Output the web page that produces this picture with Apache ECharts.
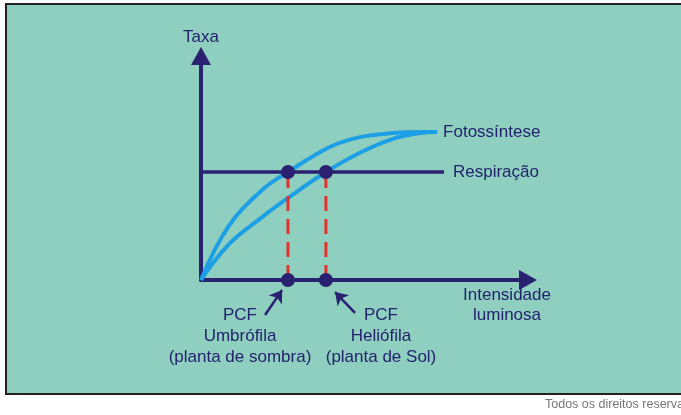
<!DOCTYPE html>
<html>
<head>
<meta charset="utf-8">
<script src="https://cdn.jsdelivr.net/npm/echarts@6/dist/echarts.min.js"></script>
<style>
  html, body { margin: 0; padding: 0; background: #fff; }
  #chart { width: 681px; height: 415px; }
</style>
</head>
<body>
<div id="chart"></div>
<script>
// curvas de fotossintese (intensidade luminosa, taxa)
const sombra = [[0, 0], [8.3, 23.7], [18.7, 40.2], [26.6, 48.2], [39.4, 59.4], [48.6, 63.8], [58.7, 65.6], [67.0, 66.1], [72.2, 66.1]];
const sol = [[0, 0], [8.3, 15.6], [18.7, 28.1], [26.6, 36.6], [38.2, 48.2], [48.6, 56.8], [58.7, 63.0], [67.0, 65.6], [72.2, 66.1]];
// respiracao constante
const respiracao = 48.2;
const respEnd = 74.3;
// pontos de compensacao
const pcf = [26.6, 38.2];
// setas das legendas [de, para]
const setas = [
  [[19.6, -15.6], [24.8, -4.5]],
  [[47.1, -14.7], [41.0, -5.4]]
];

const navy = "#2a2170";
const txt = "#24226e";
const blue = "#1d9fe6";
const font = "Liberation Sans";

const chart = echarts.init(document.getElementById("chart"));

const pontos = [];
pcf.forEach((x) => {
  pontos.push([x, respiracao]);
  pontos.push([x, 0]);
});

const option = {
  backgroundColor: "#fff",
  animation: false,
  textStyle: { fontFamily: font },
  grid: { left: 201, right: 153, top: 56, bottom: 135 },
  xAxis: {
    type: "value",
    min: 0,
    max: 100,
    axisLine: { lineStyle: { color: navy, width: 4 }, symbol: ["none", "triangle"], symbolSize: [20, 18] },
    axisTick: { show: false },
    axisLabel: { show: false },
    splitLine: { show: false },
  },
  yAxis: {
    type: "value",
    min: 0,
    max: 100,
    name: "Taxa",
    nameLocation: "end",
    nameGap: 10,
    nameTextStyle: { color: txt, fontSize: 17, fontFamily: font, align: "center" },
    axisLine: { show: true, lineStyle: { color: navy, width: 4 }, symbol: ["none", "triangle"], symbolSize: [20, 18] },
    axisTick: { show: false },
    axisLabel: { show: false },
    splitLine: { show: false },
  },
  graphic: [
    {
      type: "rect",
      z: -10,
      shape: { x: 6, y: 4, width: 690, height: 390 },
      style: { fill: "#8fcfbf", stroke: "#222", lineWidth: 2 },
    },
    {
      type: "text",
      x: 507, y: 305,
      style: { text: "Intensidade\nluminosa", fill: txt, font: "17px " + font, align: "center", verticalAlign: "middle", lineHeight: 20 },
    },
    {
      type: "text",
      x: 240, y: 336,
      style: { text: "PCF\nUmbrófila\n(planta de sombra)", fill: txt, font: "17px " + font, align: "center", verticalAlign: "middle", lineHeight: 21 },
    },
    {
      type: "text",
      x: 381, y: 336,
      style: { text: "PCF\nHeliófila\n(planta de Sol)", fill: txt, font: "17px " + font, align: "center", verticalAlign: "middle", lineHeight: 21 },
    },
    {
      type: "text",
      x: 545, y: 405,
      style: { text: "Todos os direitos reservados", fill: "#777", font: "12.5px " + font, verticalAlign: "middle" },
    },
  ],
  series: [
    {
      name: "Respiração",
      type: "line",
      data: [[0, respiracao], [respEnd, respiracao]],
      symbol: "none",
      lineStyle: { color: navy, width: 3.5 },
      endLabel: { show: true, formatter: "{a}", distance: 9, color: txt, fontSize: 17, fontFamily: font },
      z: 3,
    },
    {
      name: "Heliófila",
      type: "line",
      data: sol,
      smooth: 0.4,
      symbol: "none",
      lineStyle: { color: blue, width: 4 },
      z: 2,
    },
    {
      name: "Fotossíntese",
      type: "line",
      data: sombra,
      smooth: 0.4,
      symbol: "none",
      lineStyle: { color: blue, width: 4 },
      endLabel: { show: true, formatter: "{a}", distance: 6, color: txt, fontSize: 17, fontFamily: font },
      z: 2,
    },
    ...pcf.map((x) => ({
      type: "line",
      data: [[x, 0], [x, respiracao]],
      symbol: "none",
      lineStyle: { color: "#e3322a", width: 3, type: [15, 8] },
      z: 4,
    })),
    {
      type: "scatter",
      data: pontos,
      symbolSize: 14,
      itemStyle: { color: navy, opacity: 1 },
      clip: false,
      z: 5,
    },
    {
      type: "lines",
      coordinateSystem: "cartesian2d",
      clip: false,
      symbol: ["none", "arrow"],
      symbolSize: 12,
      lineStyle: { color: navy, width: 2.5, opacity: 1 },
      data: setas.map((s) => ({ coords: s })),
      z: 5,
    },
  ],
};

chart.setOption(option);
</script>
</body>
</html>
